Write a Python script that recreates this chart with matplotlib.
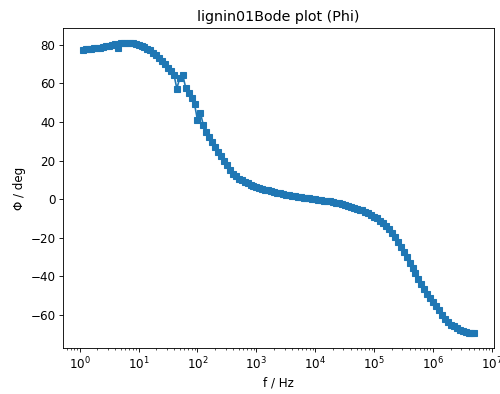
import matplotlib
matplotlib.use("Agg")
import matplotlib.pyplot as plt

# Bode phase data for lignin01 (frequency in Hz, phase in degrees)
freq = [
    1.122, 1.259, 1.413, 1.585, 1.778, 1.995, 2.239, 2.512, 2.818, 3.162,
    3.548, 3.981, 4.467, 5.012, 5.623, 6.310, 7.079, 7.943, 8.913, 10.0,
    11.22, 12.59, 14.13, 15.85, 17.78, 19.95, 22.39, 25.12, 28.18, 31.62,
    35.48, 39.81, 44.67, 50.12, 56.23, 63.10, 70.79, 79.43, 89.13, 100.0,
    112.2, 125.9, 141.3, 158.5, 177.8, 199.5, 223.9, 251.2, 281.8, 316.2,
    354.8, 398.1, 446.7, 501.2, 562.3, 631.0, 707.9, 794.3, 891.3, 1.0e3,
    1.122e3, 1.259e3, 1.413e3, 1.585e3, 1.778e3, 1.995e3, 2.239e3, 2.512e3, 2.818e3, 3.162e3,
    3.548e3, 3.981e3, 4.467e3, 5.012e3, 5.623e3, 6.310e3, 7.079e3, 7.943e3, 8.913e3, 1.0e4,
    1.122e4, 1.259e4, 1.413e4, 1.585e4, 1.778e4, 1.995e4, 2.239e4, 2.512e4, 2.818e4, 3.162e4,
    3.548e4, 3.981e4, 4.467e4, 5.012e4, 5.623e4, 6.310e4, 7.079e4, 7.943e4, 8.913e4, 1.0e5,
    1.122e5, 1.259e5, 1.413e5, 1.585e5, 1.778e5, 1.995e5, 2.239e5, 2.512e5, 2.818e5, 3.162e5,
    3.548e5, 3.981e5, 4.467e5, 5.012e5, 5.623e5, 6.310e5, 7.079e5, 7.943e5, 8.913e5, 1.0e6,
    1.122e6, 1.259e6, 1.413e6, 1.585e6, 1.778e6, 1.995e6, 2.239e6, 2.512e6, 2.818e6, 3.162e6,
    3.548e6, 3.981e6, 4.467e6, 5.012e6,
]

phi = [
    77.4, 77.6, 77.8, 78.0, 78.2, 78.4, 78.6, 79.0, 79.3, 79.6,
    79.9, 80.2, 78.4, 80.8, 81.1, 81.2, 81.1, 80.9, 80.5, 80.0,
    79.4, 78.8, 78.0, 77.1, 76.0, 74.9, 73.4, 71.8, 70.0, 68.2,
    66.3, 64.6, 57.3, 63.0, 64.3, 57.8, 55.0, 52.3, 49.2, 41.0,
    44.8, 38.2, 35.0, 32.2, 29.8, 26.8, 24.6, 22.2, 19.8, 17.6,
    15.2, 13.2, 11.8, 10.6, 9.8, 9.0, 8.3, 7.6, 7.0, 6.4,
    5.9, 5.4, 4.9, 4.5, 4.1, 3.7, 3.3, 3.0, 2.7, 2.4,
    2.1, 1.8, 1.5, 1.3, 1.0, 0.8, 0.6, 0.4, 0.2, 0.0,
    -0.2, -0.4, -0.7, -0.9, -1.2, -1.5, -1.8, -2.2, -2.6, -3.0,
    -3.5, -4.1, -4.6, -5.2, -5.6, -5.4, -6.6, -7.4, -8.2, -9.0,
    -10.0, -11.1, -12.3, -13.8, -15.4, -17.4, -19.6, -22.0, -24.6, -27.4,
    -30.2, -32.9, -35.6, -38.4, -41.2, -44.0, -46.6, -49.0, -51.2, -53.3,
    -55.5, -57.6, -60.3, -62.2, -63.8, -65.0, -66.0, -67.0, -67.8, -68.5,
    -69.0, -69.3, -69.6, -69.4,
]

sample = "lignin01"

plt.rcParams["font.size"] = 11
plt.rcParams["axes.titlesize"] = 13.2

fig = plt.figure(figsize=(6.4, 5.0432), dpi=78.125)
ax = fig.add_axes([0.126, 0.1168, 0.862, 0.8122])

ax.plot(freq, phi, marker="s", color="C0")
ax.set_xscale("log")
ax.set_xlabel("f / Hz")
ax.set_ylabel("Φ / deg")
ax.set_title(sample + "Bode plot (Phi)")

fig.savefig("out.png", dpi=78.125)
plt.close(fig)
